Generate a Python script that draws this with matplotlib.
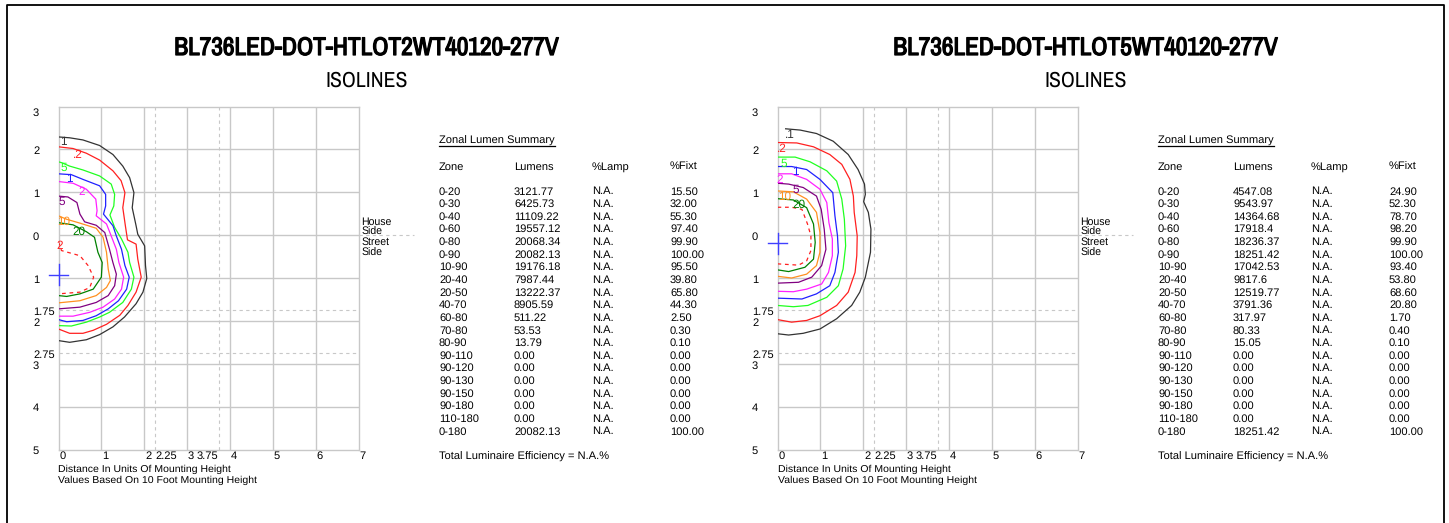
import matplotlib
matplotlib.use("Agg")
import matplotlib.pyplot as plt
import matplotlib.patheffects as pe

plt.rcParams["font.family"] = ["Liberation Sans", "DejaVu Sans"]
plt.rcParams["text.hinting"] = "no_hinting"

NARROW = ["Archivo Narrow", "Liberation Sans"]

# titulos
titles = ["BL736LED-DOT-HTLOT2WT40120-277V", "BL736LED-DOT-HTLOT5WT40120-277V"]

# tabela
zones = ["0-20", "0-30", "0-40", "0-60", "0-80", "0-90", "10-90", "20-40", "20-50", "40-70",
         "60-80", "70-80", "80-90", "90-110", "90-120", "90-130", "90-150", "90-180", "110-180", "0-180"]
lumens_a = ["3121.77", "6425.73", "11109.22", "19557.12", "20068.34", "20082.13", "19176.18", "7987.44",
            "13222.37", "8905.59", "511.22", "53.53", "13.79", "0.00", "0.00", "0.00", "0.00", "0.00", "0.00", "20082.13"]
fixt_a = ["15.50", "32.00", "55.30", "97.40", "99.90", "100.00", "95.50", "39.80", "65.80", "44.30",
          "2.50", "0.30", "0.10", "0.00", "0.00", "0.00", "0.00", "0.00", "0.00", "100.00"]
lumens_b = ["4547.08", "9543.97", "14364.68", "17918.4", "18236.37", "18251.42", "17042.53", "9817.6",
            "12519.77", "3791.36", "317.97", "80.33", "15.05", "0.00", "0.00", "0.00", "0.00", "0.00", "0.00", "18251.42"]
fixt_b = ["24.90", "52.30", "78.70", "98.20", "99.90", "100.00", "93.40", "53.80", "68.60", "20.80",
          "1.70", "0.40", "0.10", "0.00", "0.00", "0.00", "0.00", "0.00", "0.00", "100.00"]

# eixos
x_grid = [0, 1, 2, 3, 4, 5, 6, 7]
y_grid = [3, 2, 1, 0, -1, -2, -3, -4, -5]
x_dashed = [2.25, 3.75]
y_dashed = [-1.75, -2.75]
x_labels = [0, 1, 2, 2.25, 3, 3.75, 4, 5, 6, 7]
y_labels = [3, 2, 1, 0, -1, -1.75, -2, -2.75, -3, -4, -5]

# isolinhas, painel esquerdo (x, y em alturas de montagem)
a_01 = [(0, 2.29), (0.26, 2.27), (0.57, 2.22), (0.96, 2.09), (1.27, 1.88), (1.50, 1.61), (1.66, 1.34), (1.76, 0.99),
        (1.72, 0.64), (1.81, 0.22), (1.85, 0.02), (2.01, -0.25), (2.03, -0.71), (2.06, -1.01), (1.97, -1.33),
        (1.81, -1.60), (1.54, -1.91), (1.27, -2.14), (0.96, -2.32), (0.65, -2.44), (0.26, -2.50), (0, -2.46)]
a_02 = [(0, 2.06), (0.34, 2.02), (0.65, 1.91), (0.96, 1.75), (1.27, 1.50), (1.46, 1.27), (1.55, 0.99), (1.50, 0.64),
        (1.56, 0.22), (1.61, -0.11), (1.81, -0.21), (1.85, -0.56), (1.93, -0.98), (1.81, -1.33), (1.62, -1.64),
        (1.43, -1.87), (1.12, -2.08), (0.81, -2.22), (0.57, -2.29), (0.26, -2.29), (0, -2.19)]
a_05 = [(0, 1.71), (0.07, 1.69), (0.26, 1.61), (0.57, 1.52), (0.96, 1.38), (1.23, 1.19), (1.31, 0.95), (1.29, 0.68),
        (1.20, 0.47), (1.31, 0.18), (1.47, -0.09), (1.62, -0.40), (1.66, -0.64), (1.76, -0.98), (1.70, -1.26),
        (1.50, -1.57), (1.19, -1.80), (0.96, -1.91), (0.65, -2.03), (0.30, -2.12), (0, -2.11)]
a_1 = [(0, 1.43), (0.30, 1.41), (0.57, 1.30), (0.96, 1.15), (1.10, 0.95), (1.10, 0.68), (1.05, 0.49), (1.27, 0.22),
       (1.35, -0.02), (1.47, -0.33), (1.55, -0.71), (1.65, -0.98), (1.59, -1.26), (1.40, -1.53), (1.16, -1.72),
       (0.88, -1.88), (0.57, -1.99), (0.19, -2.02), (0, -1.97)]
a_2 = [(0, 1.25), (0.34, 1.21), (0.65, 1.07), (0.87, 0.84), (0.90, 0.57), (0.88, 0.45), (1.12, 0.26), (1.23, -0.02),
       (1.35, -0.33), (1.41, -0.64), (1.52, -0.98), (1.47, -1.26), (1.31, -1.49), (1.04, -1.68), (0.73, -1.80),
       (0.34, -1.89), (0, -1.89)]
a_5 = [(0, 0.91), (0.22, 0.89), (0.43, 0.76), (0.50, 0.49), (0.61, 0.31), (0.88, 0.23), (1.08, 0.06), (1.19, -0.33),
       (1.27, -0.64), (1.35, -0.91), (1.31, -1.18), (1.16, -1.41), (0.88, -1.57), (0.50, -1.68), (0, -1.72)]
a_10 = [(0, 0.45), (0.19, 0.37), (0.50, 0.28), (0.88, 0.16), (1.04, -0.05), (1.12, -0.40), (1.16, -0.79), (1.21, -1.06),
        (1.12, -1.22), (0.88, -1.41), (0.50, -1.53), (0, -1.58)]
a_20 = [(0, 0.29), (0.34, 0.24), (0.65, 0.08), (0.84, -0.05), (0.92, -0.40), (1.02, -0.64), (1.00, -0.98), (0.81, -1.26),
        (0.50, -1.37), (0.19, -1.43), (0, -1.41)]
a_50 = [(0, -0.16), (0.07, -0.36), (0.50, -0.48), (0.69, -0.71), (0.82, -0.98), (0.73, -1.22), (0.50, -1.33), (0, -1.37)]

# isolinhas, painel direito
b_01 = [(0.19, 2.48), (0.53, 2.45), (0.91, 2.37), (1.30, 2.19), (1.65, 1.88), (1.88, 1.53), (2.03, 1.19), (2.05, 0.95),
        (2.01, 0.78), (2.12, 0.53), (2.18, 0.14), (2.17, -0.40), (2.05, -0.98), (1.92, -1.33), (1.73, -1.64),
        (1.38, -1.95), (0.99, -2.19), (0.60, -2.29), (0.26, -2.33), (0, -2.30)]
b_02 = [(0, 2.16), (0.45, 2.15), (0.84, 2.06), (1.22, 1.88), (1.50, 1.65), (1.69, 1.30), (1.77, 0.91), (1.79, 0.53),
        (1.86, -0.02), (1.85, -0.48), (1.81, -0.87), (1.65, -1.33), (1.38, -1.64), (0.99, -1.88), (0.68, -1.99),
        (0.33, -2.03), (0, -1.97)]
b_05 = [(0, 1.82), (0.41, 1.82), (0.76, 1.71), (1.15, 1.50), (1.38, 1.26), (1.50, 0.84), (1.56, 0.37), (1.59, -0.25),
        (1.53, -0.79), (1.42, -1.18), (1.15, -1.45), (0.71, -1.64), (0.37, -1.67), (0, -1.64)]
b_1 = [(0, 1.60), (0.33, 1.60), (0.68, 1.53), (0.99, 1.30), (1.29, 0.99), (1.34, 0.45), (1.40, -0.02), (1.42, -0.40),
       (1.34, -0.87), (1.22, -1.18), (0.91, -1.37), (0.57, -1.49), (0, -1.47)]
b_2 = [(0, 1.43), (0.33, 1.43), (0.68, 1.30), (0.99, 1.07), (1.15, 0.76), (1.20, 0.29), (1.28, -0.09), (1.28, -0.48),
       (1.19, -0.87), (1.03, -1.14), (0.68, -1.26), (0.37, -1.32), (0, -1.31)]
b_5 = [(0, 1.21), (0.26, 1.19), (0.60, 1.11), (0.91, 0.91), (1.02, 0.60), (1.09, 0.14), (1.13, -0.33), (1.03, -0.71),
       (0.80, -0.98), (0.49, -1.10), (0, -1.12)]
b_10 = [(0, 1.03), (0.37, 1.01), (0.68, 0.84), (0.91, 0.53), (0.99, 0.06), (0.99, -0.40), (0.91, -0.71), (0.68, -0.91),
        (0.33, -1.00), (0, -0.96)]
b_20 = [(0, 0.85), (0.37, 0.82), (0.68, 0.64), (0.84, 0.26), (0.88, -0.17), (0.84, -0.56), (0.64, -0.75), (0.26, -0.85),
        (0, -0.81)]
b_50 = [(0, 0.65), (0.33, 0.65), (0.57, 0.60), (0.70, 0.26), (0.78, -0.02), (0.78, -0.36), (0.68, -0.60), (0.49, -0.70),
        (0, -0.67)]

# cor de cada isolinha, na ordem .1 .2 .5 1 2 5 10 20 50
iso_colors = ["#333333", "#ff2020", "#20ff20", "#2020ff", "#ff20ff", "#800080", "#ff9020", "#008000", "#ff2020"]

a_lines = [a_01, a_02, a_05, a_1, a_2, a_5, a_10, a_20, a_50]
b_lines = [b_01, b_02, b_05, b_1, b_2, b_5, b_10, b_20, b_50]

# rotulos das isolinhas (texto, x, y)
a_tags = [("1", 0.12, 2.17), (".2", 0.45, 1.88), ("5", 0.12, 1.57), ("1", 0.25, 1.30), ("2", 0.53, 1.01),
          ("5", 0.07, 0.78), ("10", 0.13, 0.31), ("20", 0.48, 0.09), ("2", 0.02, -0.25)]
b_tags = [(".1", 0.28, 2.33), (".2", 0.10, 2.02), ("5", 0.14, 1.67), ("1", 0.41, 1.47), ("2", 0.06, 1.29),
          ("5", 0.43, 1.05), ("10", 0.16, 0.90), ("20", 0.49, 0.70)]
a_cross = (0, -0.92)
b_cross = (0, -0.19)

W, H = 1449, 523
GRID = "#c8c8c8"
SMALL = 7.55
TABLE = 8.0


def draw_panel(fig, page, left, title, lines, tags, cross, lumens, fixt):
    # eixo de 300 x 343 pixels
    ax = fig.add_axes([left / W, 1 - 449.5 / H, 300 / W, 343 / H])
    ax.set_xlim(0, 7)
    ax.set_ylim(-5, 3)
    ax.set_xticks([])
    ax.set_yticks([])
    ax.patch.set_alpha(0)
    for s in ax.spines.values():
        s.set_color(GRID)
        s.set_linewidth(1.0)

    for v in x_grid[1:-1]:
        ax.axvline(v, color=GRID, lw=1.0, zorder=1)
    for v in y_grid[1:-1]:
        ax.axhline(v, color=GRID, lw=1.0, zorder=1)
    for v in x_dashed:
        ax.axvline(v, color=GRID, lw=0.8, ls=(0, (3, 3)), zorder=1)
    for v in y_dashed:
        ax.axhline(v, color=GRID, lw=0.8, ls=(0, (3, 3)), zorder=1)
    ax.plot([7, 8.3], [0, 0], color=GRID, lw=0.8, ls=(0, (3, 3)), clip_on=False)

    for i, pts in enumerate(lines):
        xs = [p[0] for p in pts]
        ys = [p[1] for p in pts]
        ls = (0, (3, 3)) if i == 8 else "-"
        ax.plot(xs, ys, color=iso_colors[i], lw=0.9, ls=ls, zorder=3)

    for i, (txt, x, y) in enumerate(tags):
        ax.text(x, y, txt, color=iso_colors[i], fontsize=8.5, ha="center", va="center", zorder=4)

    ax.plot([cross[0], cross[0]], [cross[1] - 0.24, cross[1] + 0.24], color="#4040ff", lw=1.0, clip_on=False, zorder=4)
    ax.plot([cross[0] - 0.23, cross[0] + 0.23], [cross[1], cross[1]], color="#4040ff", lw=1.0, clip_on=False, zorder=4)

    for v in y_labels:
        off = -6.5 if v == 3 else -2
        ax.annotate(str(abs(v)), (0, v), xytext=(-25.5, off), textcoords="offset pixels", ha="left", va="center",
                    fontsize=8, annotation_clip=False)
    for v in x_labels:
        # 3.75 fica a esquerda da linha tracejada
        if v == 3.75:
            ax.annotate(str(v), (v, -5), xytext=(-1, -7), textcoords="offset pixels", ha="right", va="center",
                        fontsize=8, annotation_clip=False)
        else:
            ax.annotate(str(v), (v, -5), xytext=(1, -7), textcoords="offset pixels", ha="left", va="center",
                        fontsize=8, annotation_clip=False)

    # textos em pixels da pagina
    cx = left + 308
    t = page.text(cx, 55, title, ha="center", va="baseline", fontsize=18.3, family=NARROW)
    t.set_path_effects([pe.withStroke(linewidth=0.9, foreground="black")])
    page.text(cx, 87, "ISOLINES", ha="center", va="baseline", fontsize=15.7, family=NARROW)

    page.text(left, 472, "Distance In Units Of Mounting Height", fontsize=SMALL, va="baseline")
    page.text(left, 483, "Values Based On 10 Foot Mounting Height", fontsize=SMALL, va="baseline")

    for txt, y in zip(["House", "Side", "Street", "Side"], [224.5, 235, 245, 255.7]):
        page.text(left + 303, y, txt, fontsize=7.6, va="baseline")

    c1, c2, c3, c4 = left + 380.5, left + 455.5, left + 533.5, left + 611.5
    page.text(c1, 144, "Zonal Lumen Summary", fontsize=TABLE, va="baseline")
    page.plot([c1, c1 + 116], [146, 146], color="black", lw=0.9)
    for x, txt in zip([c1, c2, c3, c4], ["Zone", "Lumens", "%Lamp", "%Fixt"]):
        page.text(x, 169.7, txt, fontsize=TABLE, va="baseline")
    for i, z in enumerate(zones):
        y = 194.5 + i * 12.63
        page.text(c1, y, z, fontsize=TABLE, va="baseline")
        page.text(c2, y, lumens[i], fontsize=TABLE, va="baseline")
        page.text(c3, y, "N.A.", fontsize=TABLE, va="baseline")
        page.text(c4, y, fixt[i], fontsize=TABLE, va="baseline")
    page.text(c1, 460, "Total Luminaire Efficiency = N.A.%", fontsize=TABLE, va="baseline")


fig = plt.figure(figsize=(W / 100, H / 100), dpi=100)

page = fig.add_axes([0, 0, 1, 1])
page.set_xlim(0, W)
page.set_ylim(H, 0)
page.axis("off")

# moldura aberta embaixo
page.plot([6.5, 6.5, 1443.5, 1443.5], [H, 4.5, 4.5, H], color="black", lw=1.3)

draw_panel(fig, page, 58.5, titles[0], a_lines, a_tags, a_cross, lumens_a, fixt_a)
draw_panel(fig, page, 777.5, titles[1], b_lines, b_tags, b_cross, lumens_b, fixt_b)

fig.savefig("out.png", dpi=100)
